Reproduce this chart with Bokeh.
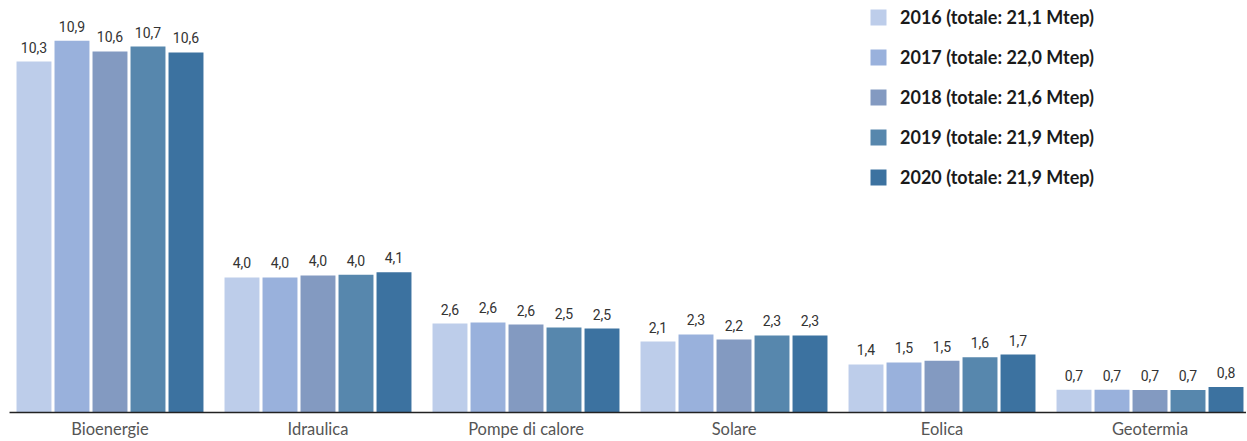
from bokeh.plotting import figure
from bokeh.models import ColumnDataSource, Range1d, Legend, LegendItem, LabelSet
from bokeh.core.properties import value
from bokeh.embed import file_html
from bokeh.resources import INLINE

categories = ["Bioenergie", "Idraulica", "Pompe di calore", "Solare", "Eolica", "Geotermia"]
years = ["2016", "2017", "2018", "2019", "2020"]
totals = ["21,1", "22,0", "21,6", "21,9", "21,9"]
v2016 = [10.29, 3.96, 2.61, 2.08, 1.41, 0.67]
v2017 = [10.90, 3.96, 2.64, 2.29, 1.47, 0.67]
v2018 = [10.59, 4.02, 2.58, 2.14, 1.52, 0.66]
v2019 = [10.73, 4.04, 2.49, 2.26, 1.62, 0.66]
v2020 = [10.56, 4.11, 2.46, 2.26, 1.70, 0.75]
labels2016 = ["10,3", "4,0", "2,6", "2,1", "1,4", "0,7"]
labels2017 = ["10,9", "4,0", "2,6", "2,3", "1,5", "0,7"]
labels2018 = ["10,6", "4,0", "2,6", "2,2", "1,5", "0,7"]
labels2019 = ["10,7", "4,0", "2,5", "2,3", "1,6", "0,7"]
labels2020 = ["10,6", "4,1", "2,5", "2,3", "1,7", "0,8"]
colors = ["#BDCDEA", "#99B1DC", "#839AC1", "#5787AD", "#3C72A0"]

series = [v2016, v2017, v2018, v2019, v2020]
series_labels = [labels2016, labels2017, labels2018, labels2019, labels2020]

W, H = 1246, 440
p = figure(width=W, height=H, output_backend="svg", toolbar_location=None,
           x_range=Range1d(-0.0264, 5.9639), y_range=Range1d(-0.821, 12.082),
           min_border_left=0, min_border_right=0, min_border_top=0, min_border_bottom=0)
p.outline_line_color = None
p.grid.grid_line_color = None
p.xaxis.visible = False
p.yaxis.visible = False

bar_w = 0.168
pitch = 0.1827
renderers = []
for j, (vals, labs) in enumerate(zip(series, series_labels)):
    xs = [i + 0.5 + (j - 2) * pitch for i in range(len(categories))]
    src = ColumnDataSource(dict(x=xs, top=vals, lab=labs))
    r = p.vbar(x="x", top="top", width=bar_w, bottom=0, source=src,
               fill_color=colors[j], line_color=None)
    renderers.append(r)
    ls = LabelSet(x="x", y="top", text="lab", source=src, text_align="center",
                  text_baseline="alphabetic", y_offset=9, text_font=value("Roboto"),
                  text_font_size="14px", text_color="#333333")
    p.add_layout(ls)

# baseline (x axis line)
p.segment(x0=[0.017], y0=[0], x1=[6.0], y1=[0], line_color="#222222", line_width=1.5)

# category labels under the axis line
cat_src = ColumnDataSource(dict(x=[i + 0.5 for i in range(len(categories))],
                                y=[0] * len(categories), t=categories))
p.text(x="x", y="y", text="t", source=cat_src, text_align="center",
       text_baseline="top", y_offset=6, text_font=value("Lato"),
       text_font_size="16.5px", text_color="#555555")

items = [LegendItem(label=f"{y} (totale: {t} Mtep)", renderers=[r])
         for y, t, r in zip(years, totals, renderers)]
legend = Legend(items=items, location=(868, 252), orientation="vertical",
                border_line_color=None, background_fill_alpha=0,
                padding=0, margin=0, spacing=18, glyph_width=20, glyph_height=20,
                label_height=16, label_standoff=12, label_text_font="Lato",
                label_text_font_style="bold", label_text_font_size="18px",
                label_text_color="#1a1a1a", label_text_baseline="middle")
p.add_layout(legend)

open("out.html", "w").write(file_html(p, INLINE))
